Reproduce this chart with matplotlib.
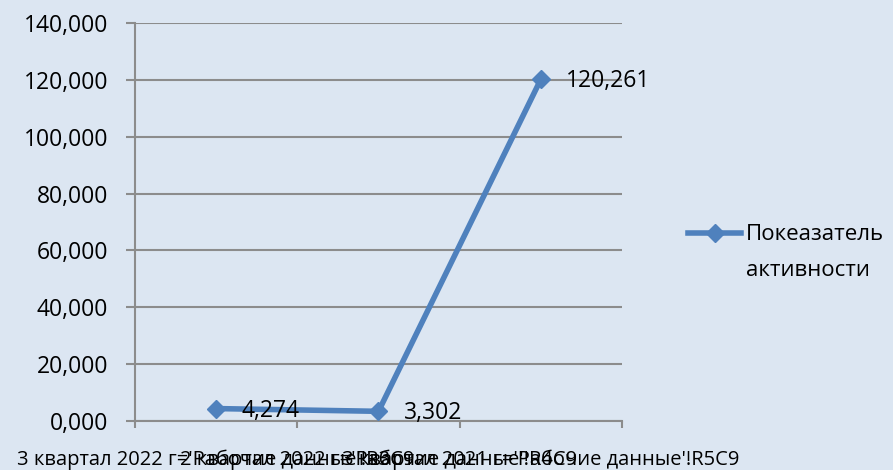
import matplotlib
matplotlib.use("Agg")
from matplotlib import pyplot as plt
from matplotlib.lines import Line2D
from matplotlib.ticker import FuncFormatter

# данные графика
periods = ["3 квартал 2022 г", "2 квартал 2022 г", "3 квартал 2021 г"]
refs = ["='Рабочие данные'!R3C9", "='Рабочие данные'!R4C9", "='Рабочие данные'!R5C9"]
values = [4.274, 3.302, 120.261]
series_name = ["Покеазатель", "активности"]
y_ticks = [0, 20, 40, 60, 80, 100, 120, 140]

plt.rcParams['font.family'] = ['Open Sans', 'DejaVu Sans']

bg = '#dce6f2'
blue = '#4f81bd'
grey = '#8c8c8c'


def ru_fmt(v, pos=None):
    # запятая как десятичный разделитель
    return f"{v:.3f}".replace('.', ',')


fig = plt.figure(figsize=(8.93, 4.70), dpi=100, facecolor=bg)
ax = fig.add_axes([0.1512, 0.1049, 0.5453, 0.8455])
ax.set_facecolor(bg)

xs = list(range(len(values)))
ax.plot(xs, values, color=blue, lw=4, marker='D', ms=9, zorder=3)

for x, v in zip(xs, values):
    ax.annotate(ru_fmt(v), (x, v), xytext=(18, -1.5), textcoords='offset points',
                ha='left', va='center', fontsize=16.5, annotation_clip=False)

ax.set_xlim(-0.5, len(values) - 0.5)
ax.set_ylim(y_ticks[0], y_ticks[-1])
ax.set_yticks(y_ticks)
ax.yaxis.set_major_formatter(FuncFormatter(ru_fmt))
ax.tick_params(axis='y', labelsize=16.5, length=6.5, width=1.5, color=grey, pad=13)

# деления между категориями, подписи по центру категорий
ax.set_xticks([i - 0.5 for i in range(len(values) + 1)])
ax.set_xticklabels([])
ax.tick_params(axis='x', which='major', length=5, width=1.5, color=grey)
ax.set_xticks(xs, [p + r for p, r in zip(periods, refs)], minor=True)
ax.tick_params(axis='x', which='minor', length=0, labelsize=14.5, pad=21)

ax.yaxis.grid(True, color=grey, lw=1.5)
ax.set_axisbelow(True)
for side in ['top', 'right']:
    ax.spines[side].set_visible(False)
for side in ['left', 'bottom']:
    ax.spines[side].set_color(grey)
    ax.spines[side].set_linewidth(1.5)

handle = Line2D([], [], color=blue, lw=4, marker='D', ms=9)
leg = fig.legend([handle], [series_name[0]], loc='center left',
                 bbox_to_anchor=(688 / 893, 1 - 235 / 470), frameon=False,
                 borderpad=0, borderaxespad=0, handlelength=2.4,
                 handletextpad=0.2, fontsize=16)

# вторая строка подписи легенды под первой
fig.canvas.draw()
bb = leg.get_texts()[0].get_window_extent().transformed(fig.transFigure.inverted())
fig.text(bb.x0, bb.y0 - 35 / 470, series_name[1], ha='left', va='bottom', fontsize=16)

fig.savefig("out.png", dpi=100, facecolor=bg)
